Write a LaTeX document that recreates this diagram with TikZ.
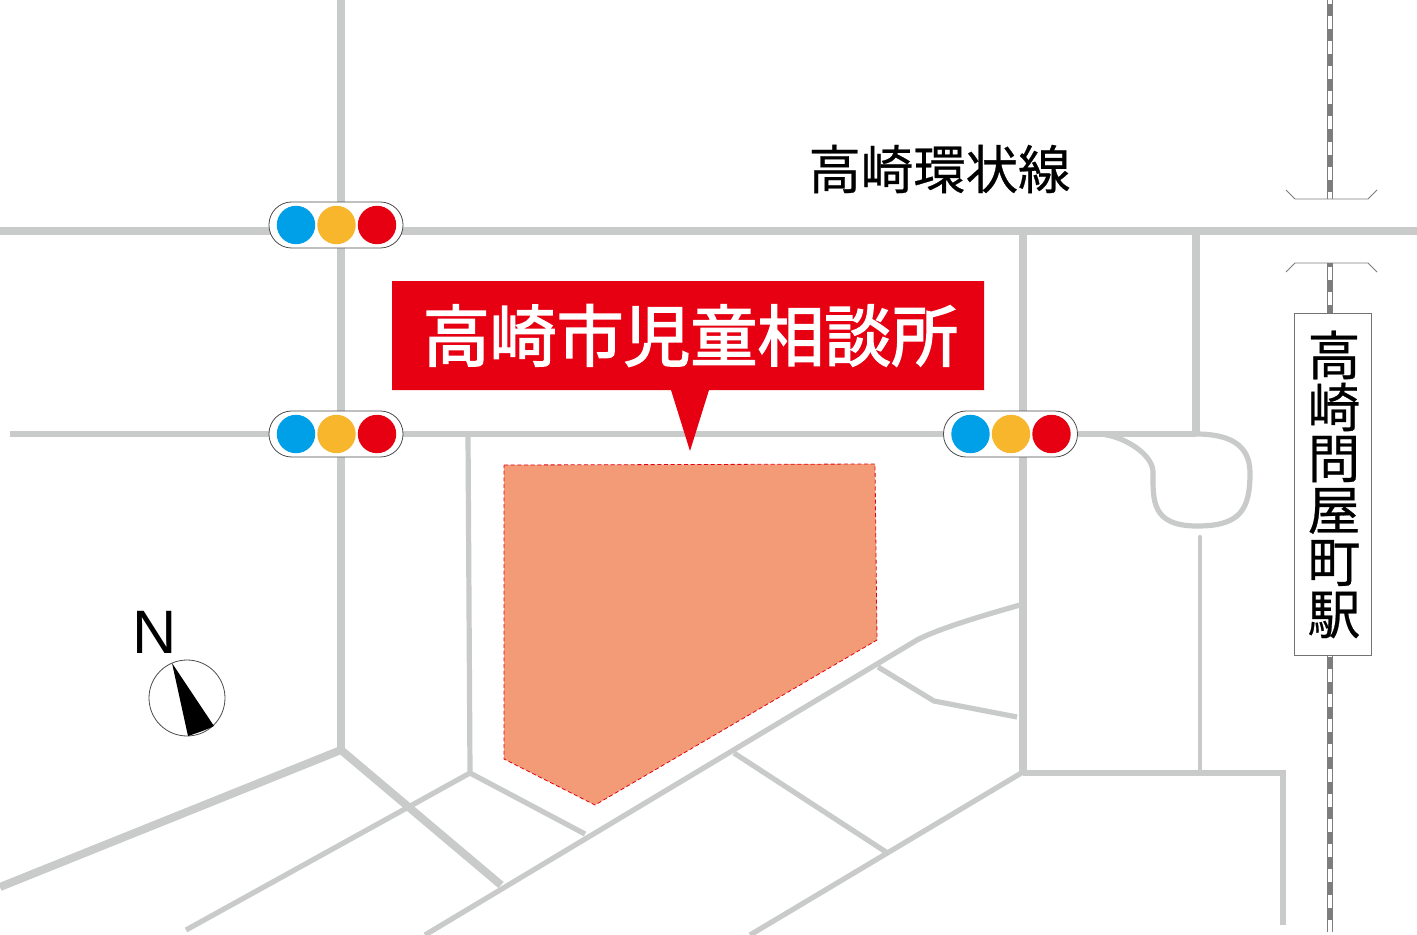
\documentclass[tikz,border=0pt]{standalone}
\usepackage{fontspec}
\setmainfont{Liberation Sans}
\newfontfamily\cjk[FakeBold=0.5]{Noto Sans CJK JP}
\newfontfamily\cjkb[FakeBold=2.2]{Noto Sans CJK JP}
\definecolor{road}{HTML}{C9CACA}
\definecolor{railg}{HTML}{7D7D7D}
\definecolor{mapred}{HTML}{E60012}
\definecolor{site}{HTML}{F29B76}
\definecolor{sigblue}{HTML}{00A0E9}
\definecolor{sigyel}{HTML}{F8B62D}
\tikzset{
  roadA/.style={draw=road,line width=6pt},
  roadB/.style={draw=road,line width=3.9pt},
  roadC/.style={draw=road,line width=3.2pt},
  signal/.pic={
    \draw[fill=white,draw=black!70,line width=0.6pt,rounded corners=17pt] (-67,-23) rectangle (67,23);
    \fill[sigblue] (-40,0) circle (14.4pt);
    \fill[sigyel] (0.5,0) circle (14.4pt);
    \fill[mapred] (41,0) circle (14.4pt);
  }
}
\begin{document}
\begin{tikzpicture}[x=0.75pt,y=-0.75pt]
\useasboundingbox (0,0) rectangle (1417,935);
\fill[white] (0,0) rectangle (1417,935);
% roads
\draw[roadA,line width=5.4pt] (341,0) -- (341,750);
\draw[roadA,line width=5.4pt] (0,231) -- (1417,231);
\draw[roadB] (10,434) -- (1196,434);
\draw[roadA] (1023,231) -- (1023,773);
\draw[roadA,line width=5.4pt] (1196,231) -- (1196,434);
\draw[roadB] (1100,434) .. controls (1125,436) and (1153,455) .. (1153,472)
  .. controls (1153,500) and (1151,526) .. (1197,526)
  .. controls (1240,526) and (1250,510) .. (1250,473)
  .. controls (1250,445) and (1230,434) .. (1196,434);
\draw[roadC,line cap=round] (1200,537) -- (1200,773);
\draw[roadB,line join=miter] (1023,773) -- (1283,773) -- (1283,925);
\draw[roadB] (1023,772) -- (750,935);
\draw[roadB] (734,753) -- (886,852);
\draw[roadB] (468,434) -- (470,773) -- (585,834);
\draw[roadB] (470,773) -- (186,930);
\draw[roadA] (341,750) -- (0,887);
\draw[roadA] (341,750) -- (501,885);
\draw[roadB] (425,935) -- (917,640) .. controls (940,628) and (985,615) .. (1020,605);
\draw[roadB] (878,667) -- (934,701) -- (1017,717);
% site
\draw[mapred,fill=site,line width=0.6pt,densely dashed] (504,465) -- (875,464) -- (877,640) -- (595,805) -- (504,759) -- cycle;
% callout
\fill[mapred] (392,281) -- (984,281) -- (984,390) -- (709,390) -- (690,451) -- (671,390) -- (392,390) -- cycle;
\node[text=white,inner sep=0pt] (title) at (690.5,335.5) {\cjkb\fontsize{50.2}{50}\selectfont 高崎市児童相談所};
\node[inner sep=0pt] (loop) at (939.5,169) {\cjk\fontsize{39.3}{39}\selectfont 高崎環状線};
% signals
\path (336,225) pic {signal};
\path (336,434) pic {signal};
\path (1010.5,434) pic {signal};
% railway
\foreach \a/\b in {0/199,263/313,655/932}{
  \draw[draw=road,line width=5.2pt] (1330,\a) -- (1330,\b);
}
\foreach \a/\b in {0/199,263/313,655/932}{
  \begin{scope}
  \clip (1320,\a) rectangle (1340,\b);
  \fill[railg] (1327,\a) rectangle (1333,\b);
  \foreach \k in {-1,...,36}{
    \fill[white] (1328,{16+25.1*\k}) rectangle (1332,{29+25.1*\k});
  }
  \end{scope}
}
\draw[railg,line width=0.7pt] (1286,190) -- (1295,199) -- (1368,199) -- (1377,190);
\draw[railg,line width=0.7pt] (1286,272) -- (1295,263) -- (1368,263) -- (1377,272);
% station sign
\draw[fill=white,draw=black!55,line width=0.6pt] (1294.5,313) rectangle (1371,655);
\node[inner sep=0pt] (s1) at (1334,355) {\cjk\fontsize{39.5}{39}\selectfont 高};
\node[inner sep=0pt] (s2) at (1334,407) {\cjk\fontsize{39.5}{39}\selectfont 崎};
\node[inner sep=0pt] (s3) at (1334,459) {\cjk\fontsize{39.5}{39}\selectfont 問};
\node[inner sep=0pt] (s4) at (1334,511) {\cjk\fontsize{39.5}{39}\selectfont 屋};
\node[inner sep=0pt] (s5) at (1334,563) {\cjk\fontsize{39.5}{39}\selectfont 町};
\node[inner sep=0pt] (s6) at (1334,615) {\cjk\fontsize{39.5}{39}\selectfont 駅};
% compass
\node[inner sep=0pt] (north) at (155,632) {\fontsize{46}{46}\selectfont N};
\draw[fill=white,draw=black!70,line width=0.6pt] (187,698) circle (28.5pt);
\fill[black] (172,663) -- (214,726) .. controls (206,730) and (197,733) .. (188,736) -- cycle;
\end{tikzpicture}
\end{document}
